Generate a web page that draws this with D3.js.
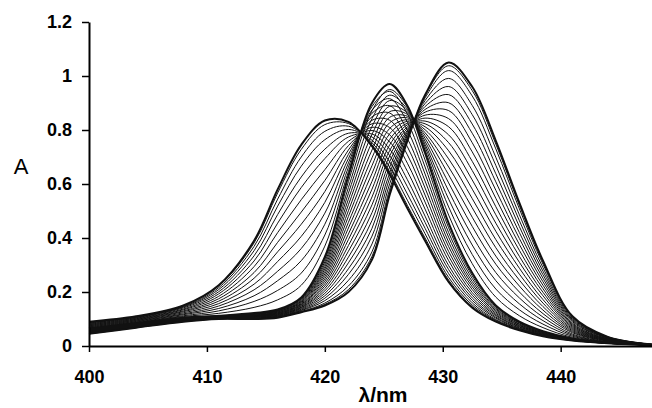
<!DOCTYPE html>
<html>
<head>
<meta charset="utf-8">
<script src="https://cdn.jsdelivr.net/npm/d3@7"></script>
<style>
body { margin: 0; background: #fff; }
.axis text { font-family: "Liberation Sans", Arial, sans-serif; font-weight: bold; font-size: 18px; fill: #000; }
.axis path { stroke: #000; stroke-width: 2; }
.axis line { stroke: #000; stroke-width: 1.5; }
.spectrum { fill: none; stroke: #111; stroke-width: 1; }
.label { font-family: "Liberation Sans", Arial, sans-serif; fill: #000; }
</style>
</head>
<body>
<script>
// wavelengths (nm) the spectra were read at
var wavelengths = [400, 404, 408, 411, 414, 416, 418, 420, 422, 424, 425.5, 427, 428.5, 430.5, 432.5, 434.5, 436.5, 438.5, 441, 444, 448];

// first stage: band at 421 nm moving to 425.5 nm
var stage1 = [
  [0.09, 0.11, 0.15, 0.225, 0.39, 0.58, 0.745, 0.835, 0.83, 0.74, 0.635, 0.51, 0.39, 0.237, 0.142, 0.09, 0.058, 0.036, 0.02, 0.01, 0.003],
  [0.089, 0.109, 0.149, 0.222, 0.382, 0.567, 0.728, 0.82, 0.824, 0.745, 0.645, 0.521, 0.40, 0.244, 0.146, 0.092, 0.059, 0.037, 0.02, 0.01, 0.003],
  [0.088, 0.108, 0.146, 0.216, 0.369, 0.544, 0.70, 0.795, 0.814, 0.753, 0.662, 0.54, 0.416, 0.254, 0.152, 0.095, 0.061, 0.038, 0.021, 0.01, 0.003],
  [0.087, 0.107, 0.144, 0.209, 0.353, 0.518, 0.666, 0.764, 0.802, 0.762, 0.682, 0.563, 0.436, 0.268, 0.16, 0.098, 0.063, 0.039, 0.021, 0.01, 0.003],
  [0.085, 0.105, 0.141, 0.201, 0.334, 0.487, 0.626, 0.729, 0.788, 0.774, 0.705, 0.59, 0.458, 0.283, 0.169, 0.103, 0.065, 0.04, 0.022, 0.01, 0.003],
  [0.083, 0.103, 0.137, 0.193, 0.315, 0.455, 0.587, 0.694, 0.774, 0.785, 0.729, 0.616, 0.481, 0.298, 0.178, 0.107, 0.067, 0.041, 0.022, 0.011, 0.003],
  [0.081, 0.101, 0.134, 0.184, 0.294, 0.42, 0.542, 0.653, 0.758, 0.798, 0.756, 0.647, 0.507, 0.316, 0.188, 0.112, 0.07, 0.043, 0.023, 0.011, 0.003],
  [0.079, 0.099, 0.13, 0.175, 0.272, 0.384, 0.496, 0.613, 0.742, 0.81, 0.782, 0.677, 0.533, 0.333, 0.198, 0.116, 0.072, 0.044, 0.024, 0.011, 0.003],
  [0.077, 0.097, 0.127, 0.166, 0.251, 0.349, 0.451, 0.572, 0.726, 0.823, 0.809, 0.708, 0.559, 0.35, 0.209, 0.121, 0.075, 0.046, 0.024, 0.011, 0.003],
  [0.075, 0.095, 0.123, 0.157, 0.229, 0.313, 0.406, 0.532, 0.71, 0.836, 0.836, 0.738, 0.585, 0.368, 0.219, 0.126, 0.077, 0.047, 0.025, 0.011, 0.003],
  [0.073, 0.093, 0.119, 0.148, 0.208, 0.277, 0.361, 0.492, 0.694, 0.849, 0.863, 0.768, 0.611, 0.385, 0.229, 0.131, 0.08, 0.049, 0.025, 0.011, 0.003],
  [0.071, 0.091, 0.116, 0.139, 0.186, 0.242, 0.316, 0.451, 0.678, 0.862, 0.89, 0.799, 0.637, 0.403, 0.239, 0.136, 0.082, 0.05, 0.026, 0.012, 0.003],
  [0.069, 0.089, 0.112, 0.13, 0.165, 0.206, 0.27, 0.411, 0.662, 0.874, 0.916, 0.829, 0.663, 0.42, 0.25, 0.14, 0.085, 0.052, 0.027, 0.012, 0.003],
  [0.067, 0.087, 0.109, 0.121, 0.143, 0.171, 0.225, 0.37, 0.646, 0.887, 0.943, 0.86, 0.689, 0.438, 0.26, 0.145, 0.087, 0.054, 0.027, 0.012, 0.003],
  [0.065, 0.085, 0.105, 0.112, 0.122, 0.135, 0.18, 0.33, 0.63, 0.90, 0.97, 0.89, 0.715, 0.455, 0.27, 0.15, 0.09, 0.055, 0.028, 0.012, 0.003]
];

// second stage: band at 425.5 nm moving to 430.5 nm
var stage2 = [
  [0.064, 0.084, 0.104, 0.111, 0.121, 0.134, 0.177, 0.321, 0.609, 0.871, 0.950, 0.884, 0.726, 0.485, 0.305, 0.181, 0.112, 0.068, 0.032, 0.013, 0.003],
  [0.063, 0.083, 0.104, 0.111, 0.120, 0.132, 0.175, 0.312, 0.587, 0.842, 0.929, 0.877, 0.737, 0.515, 0.339, 0.211, 0.134, 0.081, 0.036, 0.014, 0.003],
  [0.062, 0.083, 0.103, 0.110, 0.119, 0.131, 0.172, 0.303, 0.566, 0.813, 0.909, 0.871, 0.747, 0.544, 0.374, 0.242, 0.156, 0.094, 0.040, 0.015, 0.003],
  [0.061, 0.082, 0.102, 0.110, 0.118, 0.129, 0.169, 0.294, 0.544, 0.784, 0.888, 0.864, 0.758, 0.574, 0.408, 0.272, 0.178, 0.107, 0.044, 0.016, 0.003],
  [0.060, 0.081, 0.101, 0.109, 0.117, 0.128, 0.166, 0.285, 0.523, 0.755, 0.868, 0.858, 0.769, 0.604, 0.443, 0.303, 0.200, 0.120, 0.049, 0.018, 0.004],
  [0.059, 0.080, 0.101, 0.108, 0.115, 0.126, 0.164, 0.276, 0.501, 0.726, 0.847, 0.851, 0.780, 0.634, 0.477, 0.333, 0.222, 0.133, 0.053, 0.019, 0.004],
  [0.058, 0.079, 0.100, 0.108, 0.114, 0.125, 0.161, 0.267, 0.480, 0.697, 0.827, 0.845, 0.790, 0.663, 0.512, 0.364, 0.244, 0.146, 0.057, 0.020, 0.004],
  [0.057, 0.078, 0.099, 0.107, 0.113, 0.123, 0.158, 0.258, 0.458, 0.668, 0.806, 0.838, 0.801, 0.693, 0.546, 0.394, 0.266, 0.159, 0.061, 0.021, 0.004],
  [0.056, 0.077, 0.098, 0.107, 0.112, 0.122, 0.155, 0.249, 0.437, 0.639, 0.786, 0.832, 0.812, 0.723, 0.581, 0.425, 0.288, 0.172, 0.065, 0.022, 0.004],
  [0.055, 0.077, 0.098, 0.106, 0.111, 0.120, 0.153, 0.240, 0.415, 0.610, 0.765, 0.825, 0.823, 0.753, 0.615, 0.455, 0.310, 0.186, 0.069, 0.023, 0.004],
  [0.054, 0.076, 0.097, 0.105, 0.110, 0.119, 0.150, 0.231, 0.394, 0.581, 0.745, 0.819, 0.833, 0.782, 0.650, 0.486, 0.332, 0.199, 0.073, 0.024, 0.004],
  [0.053, 0.075, 0.096, 0.105, 0.109, 0.117, 0.147, 0.222, 0.372, 0.552, 0.724, 0.812, 0.844, 0.812, 0.684, 0.516, 0.354, 0.212, 0.077, 0.025, 0.004],
  [0.052, 0.074, 0.095, 0.104, 0.108, 0.116, 0.144, 0.213, 0.351, 0.523, 0.704, 0.806, 0.855, 0.842, 0.719, 0.547, 0.376, 0.225, 0.081, 0.026, 0.004],
  [0.051, 0.073, 0.095, 0.104, 0.107, 0.114, 0.142, 0.204, 0.329, 0.494, 0.683, 0.799, 0.866, 0.872, 0.753, 0.577, 0.398, 0.238, 0.085, 0.027, 0.004],
  [0.050, 0.072, 0.094, 0.103, 0.106, 0.113, 0.139, 0.195, 0.308, 0.465, 0.663, 0.793, 0.876, 0.901, 0.788, 0.608, 0.420, 0.251, 0.090, 0.029, 0.005],
  [0.049, 0.071, 0.093, 0.102, 0.104, 0.111, 0.136, 0.186, 0.286, 0.436, 0.642, 0.786, 0.887, 0.931, 0.822, 0.638, 0.442, 0.264, 0.094, 0.030, 0.005],
  [0.048, 0.071, 0.092, 0.102, 0.103, 0.110, 0.133, 0.177, 0.265, 0.407, 0.622, 0.780, 0.898, 0.961, 0.857, 0.669, 0.464, 0.277, 0.098, 0.031, 0.005],
  [0.047, 0.070, 0.092, 0.101, 0.102, 0.108, 0.131, 0.168, 0.243, 0.378, 0.601, 0.773, 0.909, 0.991, 0.891, 0.699, 0.486, 0.290, 0.102, 0.032, 0.005],
  [0.046, 0.069, 0.091, 0.101, 0.101, 0.107, 0.128, 0.159, 0.222, 0.349, 0.581, 0.767, 0.919, 1.020, 0.926, 0.730, 0.508, 0.303, 0.106, 0.033, 0.005],
  [0.045, 0.068, 0.090, 0.100, 0.100, 0.106, 0.126, 0.154, 0.209, 0.332, 0.568, 0.763, 0.926, 1.038, 0.946, 0.748, 0.521, 0.311, 0.108, 0.034, 0.005],
  [0.045, 0.068, 0.09, 0.10, 0.10, 0.105, 0.125, 0.15, 0.2, 0.32, 0.56, 0.76, 0.93, 1.05, 0.96, 0.76, 0.53, 0.316, 0.11, 0.034, 0.005]
];

var xTicks = [400, 410, 420, 430, 440];
var yTicks = [0, 0.2, 0.4, 0.6, 0.8, 1, 1.2];
var yTickLabels = ["0", "0.2", "0.4", "0.6", "0.8", "1", "1.2"];

var width = 652, height = 408;

// set the ranges
var x = d3.scaleLinear().domain([400, 448]).range([89, 655]);
var y = d3.scaleLinear().domain([0, 1.2]).range([346, 22]);

// one spectrum -> path
var spectrumLine = d3.line()
    .x(function(d, i) { return x(wavelengths[i]); })
    .y(function(d) { return y(d); })
    .curve(d3.curveCatmullRom.alpha(0.5));

var svg = d3.select("body").append("svg")
    .attr("width", width)
    .attr("height", height);

var spectra = stage1.concat(stage2);
var ends = [0, stage1.length - 1, spectra.length - 1];

svg.append("g").selectAll("path")
    .data(spectra)
  .enter().append("path")
    .attr("class", "spectrum")
    .attr("d", spectrumLine)
    .style("stroke-width", function(d, i) { return ends.indexOf(i) >= 0 ? 2 : 1; });

// y axis
svg.append("g")
    .attr("class", "axis")
    .attr("transform", "translate(89,0)")
    .call(d3.axisLeft(y)
        .tickValues(yTicks)
        .tickSize(7)
        .tickSizeOuter(0)
        .tickPadding(10)
        .tickFormat(function(d, i) { return yTickLabels[i]; }));

// x axis
svg.append("g")
    .attr("class", "axis")
    .attr("transform", "translate(0,346)")
    .call(d3.axisBottom(x)
        .tickValues(xTicks)
        .tickSize(6)
        .tickSizeOuter(0)
        .tickPadding(18));

svg.append("text")
    .attr("class", "label")
    .attr("x", 21)
    .attr("y", 174)
    .attr("text-anchor", "middle")
    .style("font-size", "22px")
    .text("A");

svg.append("text")
    .attr("class", "label")
    .attr("x", 383)
    .attr("y", 402)
    .attr("text-anchor", "middle")
    .style("font-size", "21px")
    .style("font-weight", "bold")
    .text("λ/nm");
</script>
</body>
</html>
